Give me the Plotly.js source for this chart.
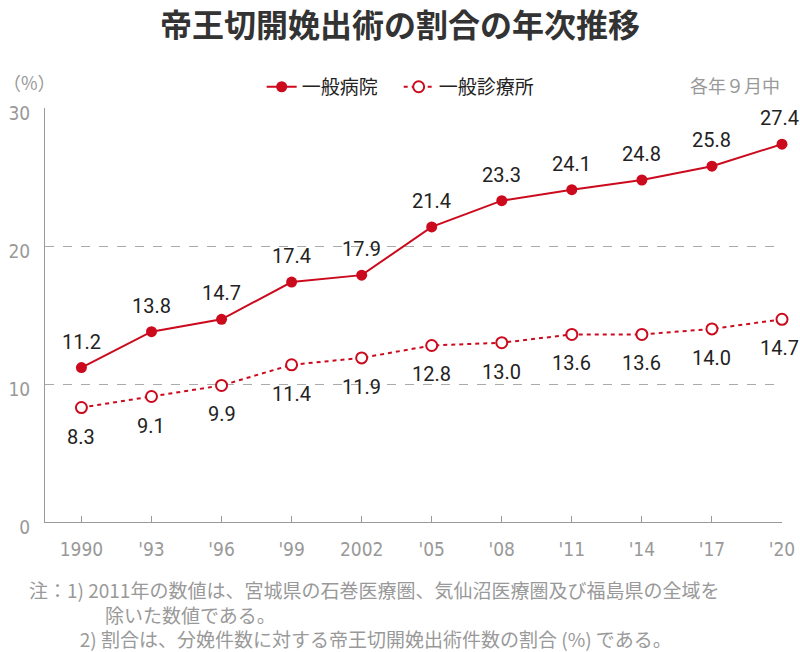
<!DOCTYPE html>
<html><head><meta charset="utf-8">
<script src="https://cdn.plot.ly/plotly-3.0.1.min.js"></script>
<style>html,body{margin:0;padding:0;background:#fff;}#chart{width:800px;height:652px;}</style>
</head><body><div id="chart"></div>
<script>
const years = ["1990", "'93", "'96", "'99", "2002", "'05", "'08", "'11", "'14", "'17", "'20"];
const hospital = [11.2, 13.8, 14.7, 17.4, 17.9, 21.4, 23.3, 24.1, 24.8, 25.8, 27.4];
const clinic = [8.3, 9.1, 9.9, 11.4, 11.9, 12.8, 13.0, 13.6, 13.6, 14.0, 14.7];
const seriesNames = ["一般病院", "一般診療所"];
const yTicks = [0, 10, 20, 30];

const RED = "#cc0a1e";
const GRAY = "#999999";
const JP = "'Noto Sans CJK JP', sans-serif";
const NUM = "Roboto, 'Noto Sans', sans-serif";
const NARROW = "'Liberation Sans Narrow', 'DejaVu Sans Condensed', sans-serif";

const traces = [
  {x: years, y: hospital, name: seriesNames[0], type: "scatter", mode: "lines+markers",
   line: {color: RED, width: 2}, marker: {color: RED, size: 11}, cliponaxis: false},
  {x: years, y: clinic, name: seriesNames[1], type: "scatter", mode: "lines+markers",
   line: {color: RED, width: 2, dash: "4px,4px"},
   marker: {color: "#ffffff", size: 11, line: {color: RED, width: 2}}, cliponaxis: false}
];

const annotations = [];
years.forEach((yr, i) => {
  const xs = (i === years.length - 1) ? -3 : 0;
  annotations.push({x: i, y: hospital[i], text: hospital[i].toFixed(1), showarrow: false,
    yshift: 26, xshift: xs, font: {family: NUM, size: 20, color: "#222"}});
  annotations.push({x: i, y: clinic[i], text: clinic[i].toFixed(1), showarrow: false,
    yshift: -29, xshift: xs, font: {family: NUM, size: 20, color: "#222"}});
});
annotations.push({xref: "paper", yref: "paper", x: -0.06, y: 1.063, xanchor: "left", yanchor: "middle",
  text: "（%）", showarrow: false, font: {family: JP, size: 18, color: GRAY}});
annotations.push({xref: "paper", yref: "paper", x: 1.0, y: 1.056, xanchor: "right", yanchor: "middle",
  text: "各年９月中", showarrow: false, font: {family: JP, size: 18, color: GRAY}});
annotations.push({xref: "paper", yref: "paper", x: -0.025, y: -0.126, xanchor: "left", yanchor: "top", align: "left",
  text: "注：1) 2011年の数値は、宮城県の石巻医療圏、気仙沼医療圏及び福島県の全域を<br>　　　　除いた数値である。<br>　　&nbsp;&nbsp;&nbsp;2) 割合は、分娩件数に対する帝王切開娩出術件数の割合 (%) である。",
  showarrow: false, font: {family: JP, size: 19, color: GRAY}});

const layout = {
  width: 800, height: 652,
  margin: {l: 45, r: 18, t: 108, b: 130},
  paper_bgcolor: "#fff", plot_bgcolor: "#fff",
  title: {text: "帝王切開娩出術の割合の年次推移", x: 0.5, xanchor: "center", y: 0.961, yanchor: "middle",
    font: {family: JP, size: 32, color: "#333", weight: "bold"}},
  showlegend: true,
  legend: {orientation: "h", x: 0.294, xanchor: "left", y: 1.051, yanchor: "middle", entrywidth: 92,
    font: {family: JP, size: 19, color: "#222"}, bgcolor: "rgba(0,0,0,0)"},
  xaxis: {type: "category", range: [-0.52, 10], showline: true, linecolor: GRAY, linewidth: 1,
    ticks: "inside", ticklen: 6, tickcolor: GRAY, showgrid: false, zeroline: false,
    tickfont: {family: NARROW, size: 19, color: GRAY}, ticklabelstandoff: 10, fixedrange: true},
  yaxis: {range: [0, 30.02], tickvals: yTicks, showline: true, linecolor: GRAY, linewidth: 1,
    ticks: "", showgrid: true, gridcolor: "#aaaaaa", griddash: "dash", gridwidth: 1, zeroline: false,
    tickfont: {family: NARROW, size: 19, color: GRAY}, ticklabelstandoff: 10, ticklabelshift: 5, fixedrange: true},
  annotations: annotations
};

Plotly.newPlot("chart", traces, layout, {staticPlot: true, displayModeBar: false});
</script></body></html>
